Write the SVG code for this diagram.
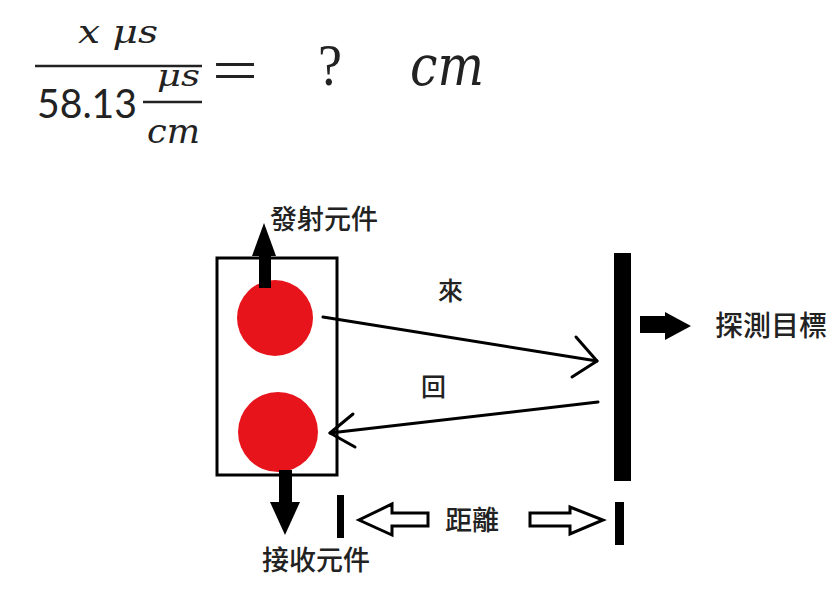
<svg xmlns="http://www.w3.org/2000/svg" width="832" height="592" viewBox="0 0 832 592">
<defs>
<style>
.math{font-family:"DejaVu Serif","Liberation Serif",serif;font-style:italic;fill:#222}
.up{font-family:"Liberation Serif","DejaVu Serif",serif;fill:#222}
.num{font-family:Lato,"Liberation Sans",sans-serif;fill:#222}
.cjk{font-family:"Noto Sans CJK TC","Noto Sans CJK SC",sans-serif;font-weight:500;fill:#222}
.thin{stroke:#000;stroke-width:3;fill:none;stroke-linecap:round;stroke-linejoin:round}
.hollow{stroke:#000;stroke-width:3;fill:#fff;stroke-linejoin:miter}
</style>
</defs>
<rect width="832" height="592" fill="#fff"/>
<g id="formula">
<text class="math" x="118" y="43" font-size="32" text-anchor="middle" textLength="80" lengthAdjust="spacingAndGlyphs">x μs</text>
<line x1="35" y1="66" x2="202" y2="66" stroke="#222" stroke-width="2.5"/>
<text class="num" x="37" y="118" font-size="41" textLength="100" lengthAdjust="spacingAndGlyphs">58.13</text>
<text class="math" x="157" y="86" font-size="30" textLength="43" lengthAdjust="spacingAndGlyphs">μs</text>
<line x1="143" y1="102" x2="202" y2="102" stroke="#222" stroke-width="2.5"/>
<text class="math" x="147" y="143" font-size="34" textLength="53" lengthAdjust="spacingAndGlyphs">cm</text>
<text class="up" x="212" y="91" font-size="62" textLength="46" lengthAdjust="spacingAndGlyphs">=</text>
<text class="up" x="318" y="85" font-size="60" textLength="24" lengthAdjust="spacingAndGlyphs">?</text>
<text class="math" x="410" y="85" font-size="56" textLength="74" lengthAdjust="spacingAndGlyphs">cm</text>
</g>
<g id="sensor">
<rect x="217" y="258" width="120" height="217" fill="#fff" stroke="#000" stroke-width="3"/>
</g>
<g id="emitter">
<circle cx="275" cy="318" r="38" fill="#e8141c"/>
<rect x="259" y="252" width="12" height="36" fill="#000"/>
<polygon points="252,256 276,256 264,223" fill="#000"/>
<text class="cjk" x="270" y="229" font-size="27">發射元件</text>
</g>
<g id="receiver">
<circle cx="278" cy="432" r="40" fill="#e8141c"/>
<rect x="279" y="470" width="13" height="33" fill="#000"/>
<polygon points="270,502 300,502 285,535" fill="#000"/>
<text class="cjk" x="262" y="570" font-size="27">接收元件</text>
</g>
<g id="target">
<rect x="614" y="253" width="17" height="228" fill="#000"/>
<rect x="640" y="316" width="26" height="17" fill="#000"/>
<polygon points="665,312 665,340 691,326" fill="#000"/>
<text class="cjk" x="715" y="336" font-size="28">探測目標</text>
</g>
<g id="distance">
<rect x="337" y="495" width="7" height="43" fill="#000"/>
<rect x="615" y="502" width="9" height="43" fill="#000"/>
<polygon class="hollow" points="428,513 392,513 392,504 359,520 392,535 392,526 428,526"/>
<polygon class="hollow" points="530,513 570,513 570,507 603,520 570,534 570,526 530,526"/>
<text class="cjk" x="445" y="530" font-size="27">距離</text>
</g>
<g id="connectors">
<line class="thin" x1="323" y1="317" x2="597" y2="361"/>
<polyline class="thin" points="576,337 597,361 572,377"/>
<line class="thin" x1="598" y1="402" x2="330" y2="433"/>
<polyline class="thin" points="353,414 330,433 355,447"/>
<text class="cjk" x="438" y="300" font-size="25">來</text>
<text class="cjk" x="421" y="396" font-size="25">回</text>
</g>
</svg>
